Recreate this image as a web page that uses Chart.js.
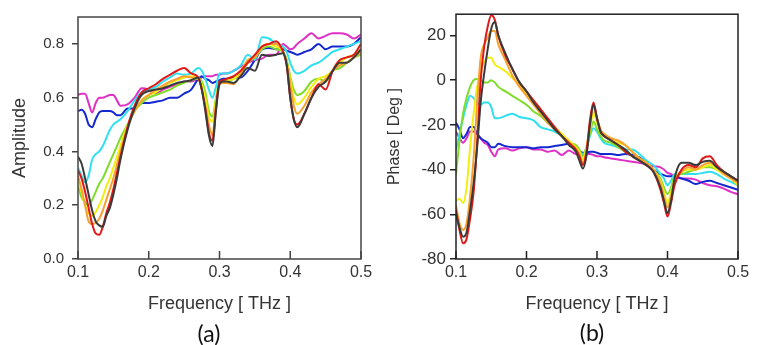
<!DOCTYPE html>
<html>
<head>
<meta charset="utf-8">
<script src="https://cdn.jsdelivr.net/npm/chart.js@4.4.1/dist/chart.umd.min.js"></script>
<style>
  html, body { margin: 0; padding: 0; background: #fff; }
  body { width: 768px; height: 345px; position: relative; overflow: hidden; }
  canvas { position: absolute; top: 0; }
  .tag { position: absolute; font-family: Lato, 'Open Sans', sans-serif; font-size: 23px; color: #111; transform: translate(-50%, -50%); }
</style>
</head>
<body>
<canvas id="chartA" width="384" height="345" style="left:0"></canvas>
<canvas id="chartB" width="384" height="345" style="left:384px"></canvas>
<div class="tag" style="left:209px; top:333px">(a)</div>
<div class="tag" style="left:592px; top:332px">(b)</div>
<script>
// frequency grid (THz), shared by both panels
const freq = [0.100, 0.105, 0.110, 0.115, 0.120, 0.125, 0.130, 0.135, 0.140, 0.145, 0.150, 0.155,
  0.16, 0.17, 0.18, 0.19, 0.20, 0.21, 0.22, 0.23, 0.24, 0.25, 0.26, 0.27,
  0.275, 0.28, 0.285, 0.29, 0.295, 0.30, 0.305, 0.31,
  0.32, 0.33, 0.34, 0.35, 0.36, 0.37, 0.38, 0.39,
  0.395, 0.40, 0.405, 0.41,
  0.42, 0.43, 0.44, 0.45, 0.46, 0.47, 0.48, 0.49, 0.50];

const freqTicks = [0.1, 0.2, 0.3, 0.4, 0.5];
const ampTicks = [0, 0.2, 0.4, 0.6, 0.8];
const phaseTicks = [-80, -60, -40, -20, 0, 20];

// (a) amplitude
const ampBlack = [0.38, 0.355, 0.30, 0.24, 0.18, 0.14, 0.125, 0.12, 0.16, 0.19, 0.24, 0.30, 0.37, 0.48, 0.56, 0.61, 0.625, 0.63, 0.635, 0.645, 0.655, 0.66, 0.665, 0.675, 0.63, 0.55, 0.46, 0.42, 0.55, 0.65, 0.66, 0.66, 0.655, 0.68, 0.71, 0.70, 0.76, 0.755, 0.76, 0.765, 0.72, 0.60, 0.52, 0.49, 0.54, 0.60, 0.64, 0.66, 0.70, 0.73, 0.73, 0.75, 0.78];
const ampRed = [0.33, 0.30, 0.25, 0.19, 0.13, 0.095, 0.09, 0.12, 0.17, 0.21, 0.26, 0.32, 0.38, 0.49, 0.57, 0.62, 0.635, 0.65, 0.67, 0.685, 0.70, 0.71, 0.69, 0.675, 0.63, 0.56, 0.47, 0.44, 0.56, 0.66, 0.665, 0.67, 0.68, 0.70, 0.73, 0.76, 0.79, 0.80, 0.81, 0.77, 0.72, 0.60, 0.52, 0.50, 0.54, 0.60, 0.65, 0.63, 0.70, 0.74, 0.75, 0.76, 0.80];
const ampOrange = [0.31, 0.26, 0.20, 0.14, 0.13, 0.135, 0.15, 0.18, 0.22, 0.26, 0.30, 0.35, 0.40, 0.49, 0.55, 0.59, 0.61, 0.63, 0.645, 0.66, 0.67, 0.68, 0.675, 0.67, 0.63, 0.57, 0.50, 0.46, 0.57, 0.65, 0.655, 0.655, 0.65, 0.69, 0.74, 0.75, 0.79, 0.80, 0.80, 0.77, 0.73, 0.65, 0.57, 0.54, 0.57, 0.62, 0.65, 0.67, 0.70, 0.72, 0.73, 0.75, 0.77];
const ampYellow = [0.30, 0.25, 0.20, 0.17, 0.16, 0.175, 0.20, 0.23, 0.27, 0.30, 0.34, 0.38, 0.42, 0.50, 0.55, 0.59, 0.61, 0.62, 0.64, 0.655, 0.665, 0.675, 0.68, 0.675, 0.65, 0.60, 0.53, 0.51, 0.59, 0.655, 0.66, 0.665, 0.67, 0.70, 0.74, 0.75, 0.79, 0.80, 0.79, 0.77, 0.73, 0.67, 0.60, 0.575, 0.60, 0.64, 0.67, 0.68, 0.70, 0.73, 0.75, 0.76, 0.78];
const ampGreen = [0.27, 0.23, 0.21, 0.20, 0.22, 0.25, 0.28, 0.30, 0.33, 0.36, 0.39, 0.42, 0.45, 0.50, 0.55, 0.58, 0.60, 0.61, 0.62, 0.63, 0.645, 0.655, 0.665, 0.67, 0.66, 0.62, 0.55, 0.53, 0.60, 0.655, 0.66, 0.66, 0.67, 0.69, 0.73, 0.75, 0.78, 0.79, 0.78, 0.77, 0.74, 0.68, 0.63, 0.61, 0.625, 0.66, 0.67, 0.66, 0.70, 0.71, 0.73, 0.75, 0.76];
const ampCyan = [0.34, 0.31, 0.285, 0.31, 0.37, 0.39, 0.40, 0.42, 0.45, 0.48, 0.50, 0.51, 0.52, 0.55, 0.59, 0.62, 0.63, 0.64, 0.66, 0.675, 0.69, 0.685, 0.69, 0.71, 0.70, 0.67, 0.63, 0.60, 0.64, 0.69, 0.69, 0.69, 0.70, 0.72, 0.76, 0.74, 0.825, 0.82, 0.80, 0.79, 0.77, 0.73, 0.70, 0.69, 0.70, 0.72, 0.73, 0.75, 0.77, 0.78, 0.79, 0.80, 0.81];
const ampBlue = [0.55, 0.555, 0.54, 0.50, 0.49, 0.52, 0.545, 0.55, 0.55, 0.55, 0.545, 0.535, 0.535, 0.56, 0.56, 0.58, 0.58, 0.585, 0.59, 0.60, 0.60, 0.615, 0.63, 0.67, 0.68, 0.67, 0.665, 0.655, 0.66, 0.665, 0.67, 0.67, 0.675, 0.675, 0.70, 0.74, 0.78, 0.785, 0.78, 0.78, 0.775, 0.77, 0.765, 0.76, 0.77, 0.78, 0.80, 0.78, 0.79, 0.79, 0.79, 0.80, 0.825];
const ampMagenta = [0.61, 0.615, 0.615, 0.58, 0.545, 0.58, 0.60, 0.60, 0.605, 0.61, 0.61, 0.59, 0.57, 0.575, 0.60, 0.635, 0.63, 0.615, 0.63, 0.64, 0.65, 0.66, 0.66, 0.67, 0.675, 0.68, 0.68, 0.68, 0.685, 0.685, 0.69, 0.69, 0.70, 0.715, 0.73, 0.74, 0.745, 0.76, 0.76, 0.80, 0.79, 0.78, 0.785, 0.80, 0.82, 0.84, 0.82, 0.83, 0.84, 0.84, 0.835, 0.82, 0.835];

// (b) phase
const phaseBlack = [-60, -66, -70, -68, -58, -46, -30, -10, 3, 14, 23, 26, 20, 12, 5, -1, -5, -10, -14, -18, -22, -25, -29, -32, -36, -39.5, -34, -20, -11, -17, -23, -25, -27, -29, -31, -34, -36, -38, -41, -48, -54, -59.5, -54, -44, -37, -37, -38, -36.5, -36, -39, -41, -43, -45];
const phaseRed = [-58, -67, -73, -71, -62, -50, -28, 0, 15, 24, 29, 27, 20, 11, 5, -1, -5, -9, -13, -17, -21, -25, -28, -31, -34, -38, -32, -18, -10, -17, -23, -25, -27, -29, -32, -34, -36, -38, -41, -49, -55, -61, -55, -47, -40, -38, -39, -35, -34, -38, -41, -43, -45];
const phaseOrange = [-56, -64, -67, -64, -52, -35, -10, 10, 16, 19, 22, 22, 16, 9, 2, -3, -7, -11, -15, -19, -22, -25, -28, -31, -33, -37, -32, -20, -12, -17, -22, -24, -26, -27, -29, -32, -35, -37, -40, -46, -52, -57, -52, -45, -41, -39, -40, -38, -37, -39, -42, -44, -46];
const phaseYellow = [-54, -53, -55, -48, -30, -15, -3, 4, 8, 10, 10, 7, 6, 4, 1, -2, -6, -10, -14, -18, -21, -24, -27, -30, -32, -35.5, -30, -22, -14.5, -19, -23, -25, -26, -28, -29, -32, -35, -37, -40, -45, -50, -55, -50, -44, -41, -40, -40, -39, -38, -40, -42, -44, -47];
const phaseGreen = [-42, -27, -15, -8, -3, 0, 0.5, 0, -1, -1, 0, -1, -3, -5, -7, -9, -11, -14, -16, -19, -22, -25, -28, -29, -31, -34, -30, -24, -18.5, -22, -25, -27, -28, -30, -32, -34, -35, -37, -40, -44, -48, -51, -48, -43, -42, -41, -40, -39, -39, -40, -42, -44, -47];
const phaseCyan = [-31, -24, -17, -11, -7, -8, -10, -11, -10, -10, -12, -17, -17, -16, -15, -16.5, -17, -18, -21, -22, -23, -25, -28, -31, -32, -33, -31, -25, -21.5, -23, -26, -28, -29, -30, -31, -31, -33, -36, -38, -42, -44, -47, -45, -42, -42, -42, -42, -41.5, -41, -42, -44, -45.5, -47];
const phaseBlue = [-19, -22, -26, -24, -21, -21, -24, -26, -27, -28, -30, -30, -28.5, -29.5, -30, -30, -30, -30.5, -30, -30, -29.5, -29, -28.5, -30.5, -31.5, -32.5, -32.5, -32, -32, -32.5, -33, -33, -33, -33.5, -33, -33.5, -34.5, -37, -40, -42, -42.5, -43, -43, -43, -44, -45, -46.5, -45.5, -45, -46, -47, -48, -49];
const phaseMagenta = [-23, -26, -28, -26, -23, -23, -24, -26, -28, -29, -32, -34, -31, -30.5, -31.5, -30.5, -30, -31, -31, -32, -31.5, -33.5, -31.5, -33, -33, -33, -33, -33, -33.5, -34, -34, -34.5, -35, -35.5, -36, -36.5, -37, -37.5, -38.5, -39, -40, -41.5, -42, -43, -44, -44, -44.5, -46, -47, -47.5, -48.5, -50, -51];

const lineColors = ['#3a3a3a', '#e01818', '#f7a030', '#f2ee10', '#7fdc28', '#30e0f0', '#1428d0', '#e02fc5'];

function toPoints(vals) {
  return vals.map((v, i) => ({ x: freq[i], y: v }));
}

function makeDatasets(seriesList) {
  return seriesList.map((vals, i) => ({
    data: toPoints(vals),
    borderColor: lineColors[i],
    borderWidth: 2,
    pointRadius: 0,
    cubicInterpolationMode: 'monotone',
    fill: false
  }));
}

function framePlugin(color) {
  return {
    id: 'frame',
    afterDatasetsDraw(chart) {
      const { ctx, chartArea: a, scales: { x } } = chart;
      ctx.save();
      ctx.strokeStyle = color;
      ctx.lineWidth = 1.5;
      ctx.strokeRect(a.left, a.top, a.right - a.left, a.bottom - a.top);
      // inward ticks on the frequency axis
      ctx.beginPath();
      x.ticks.forEach(t => {
        const px = x.getPixelForValue(t.value);
        ctx.moveTo(px, a.bottom);
        ctx.lineTo(px, a.bottom - 8);
      });
      ctx.stroke();
      ctx.restore();
    }
  };
}

function makeChart(id, seriesList, cfg) {
  return new Chart(document.getElementById(id).getContext('2d'), {
    type: 'line',
    data: { datasets: makeDatasets(seriesList) },
    options: {
      responsive: false,
      animation: false,
      devicePixelRatio: 1,
      layout: { padding: { left: 0, top: cfg.top, right: cfg.right, bottom: 0 } },
      plugins: { legend: { display: false }, tooltip: { enabled: false } },
      scales: {
        x: {
          type: 'linear',
          min: 0.1,
          max: 0.5,
          afterFit: s => { s.height = 86; },
          afterBuildTicks: s => { s.ticks = freqTicks.map(v => ({ value: v })); },
          ticks: {
            callback: v => v.toFixed(1),
            font: { family: 'Liberation Sans', size: 16 },
            color: '#333',
            padding: 4,
            maxRotation: 0
          },
          grid: { display: false, drawTicks: false },
          border: { display: false },
          title: {
            display: true,
            text: 'Frequency [ THz ]',
            font: { family: 'Liberation Sans', size: 18 },
            color: '#333',
            padding: { top: 0, bottom: 30 }
          }
        },
        y: {
          min: cfg.yMin,
          max: cfg.yMax,
          afterFit: s => { s.width = cfg.yWidth; },
          afterBuildTicks: s => { s.ticks = cfg.yTicks.map(v => ({ value: v })); },
          ticks: {
            callback: cfg.yFormat,
            font: { family: 'Liberation Sans', size: cfg.yFont },
            color: '#333',
            padding: cfg.yPad
          },
          grid: { display: true, drawOnChartArea: false, drawTicks: true, tickLength: 6, color: cfg.frame, lineWidth: 1.5 },
          border: { display: false },
          title: {
            display: true,
            text: cfg.yTitle,
            font: { family: 'Liberation Sans', size: cfg.yTitleSize },
            color: '#333',
            padding: { top: cfg.yTitlePad, bottom: 0 }
          }
        }
      }
    },
    plugins: [framePlugin(cfg.frame)]
  });
}

makeChart('chartA',
  [ampBlack, ampRed, ampOrange, ampYellow, ampGreen, ampCyan, ampBlue, ampMagenta],
  { top: 4, right: 23, yMin: 0, yMax: 0.9, yWidth: 78, yTicks: ampTicks, yFormat: v => v.toFixed(1),
    yFont: 15, yPad: 8, yTitle: 'Amplitude', yTitleSize: 18, yTitlePad: 9, frame: '#444' });

makeChart('chartB',
  [phaseBlack, phaseRed, phaseOrange, phaseYellow, phaseGreen, phaseCyan, phaseBlue, phaseMagenta],
  { top: 5, right: 30, yMin: -80, yMax: 29.5, yWidth: 72, yTicks: phaseTicks, yFormat: v => String(v),
    yFont: 17, yPad: 4, yTitle: 'Phase [ Deg ]', yTitleSize: 16, yTitlePad: 1, frame: '#222' });
</script>
</body>
</html>
